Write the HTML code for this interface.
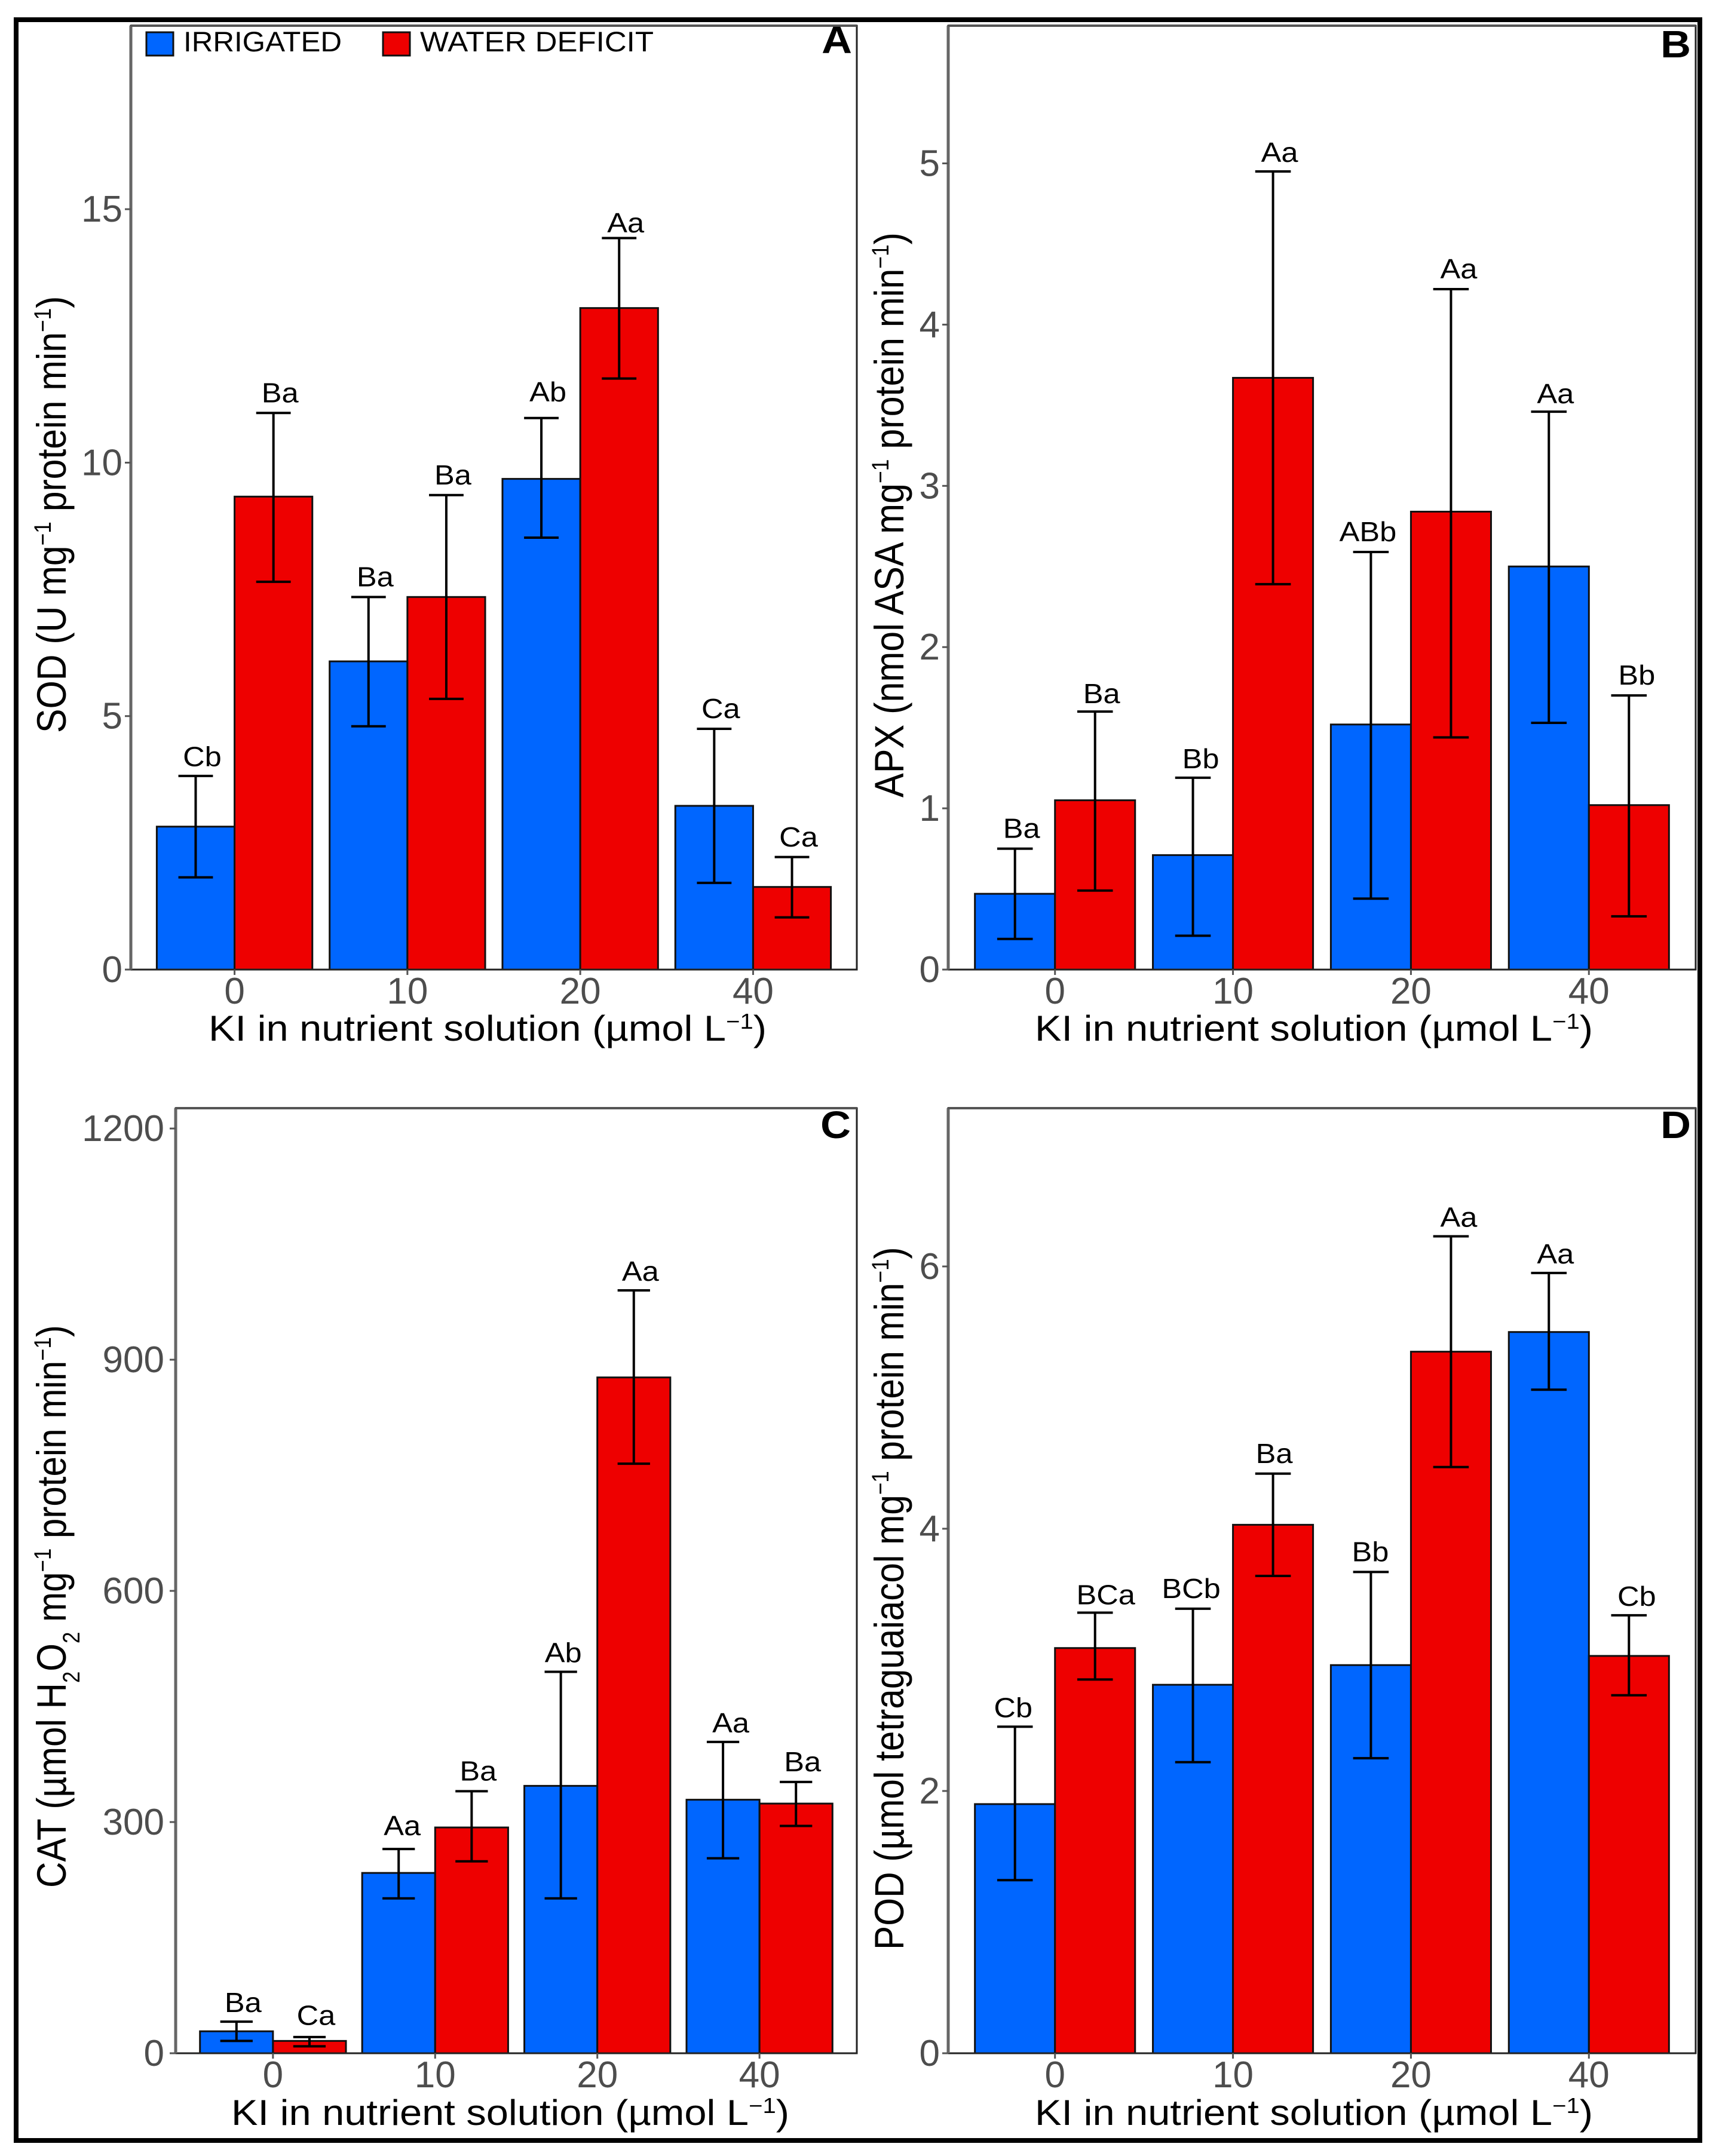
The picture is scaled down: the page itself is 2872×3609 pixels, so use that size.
<!DOCTYPE html>
<html lang="en">
<head>
<meta charset="utf-8">
<title>Antioxidant enzyme activity by KI level and irrigation</title>
<style>
html,body{margin:0;padding:0;background:#fff;}
svg{display:block;font-family:"Liberation Sans",Arial,sans-serif;}
</style>
</head>
<body>
<svg id="figure" xmlns="http://www.w3.org/2000/svg" width="2872" height="3609" viewBox="0 0 2872 3609">
  <rect x="0" y="0" width="2872" height="3609" fill="#ffffff"/>
  <rect x="27" y="33" width="2818" height="3550" fill="none" stroke="#000" stroke-width="8"/>
  <g id="panels"></g>

  <g>
    <rect x="245" y="54" width="45" height="39" fill="#0066ff" stroke="#111" stroke-width="3"/>
    <text x="307" y="86" font-size="47" fill="#000" textLength="265" lengthAdjust="spacingAndGlyphs">IRRIGATED</text>
    <rect x="641" y="54" width="45" height="39" fill="#ee0000" stroke="#111" stroke-width="3"/>
    <text x="703" y="86" font-size="47" fill="#000" textLength="391" lengthAdjust="spacingAndGlyphs">WATER DEFICIT</text>
  </g>

  <g font-size="69" fill="#000">
    <text transform="translate(110 1227) rotate(-90) scale(0.88 1)">SOD (U mg<tspan font-size="40" dy="-25">−1</tspan><tspan dy="25"> protein min</tspan><tspan font-size="40" dy="-25">−1</tspan><tspan dy="25">)</tspan></text>
    <text transform="translate(1512 1335) rotate(-90) scale(0.885 1)">APX (nmol ASA mg<tspan font-size="40" dy="-25">−1</tspan><tspan dy="25"> protein min</tspan><tspan font-size="40" dy="-25">−1</tspan><tspan dy="25">)</tspan></text>
    <text transform="translate(110 3160) rotate(-90) scale(0.871 1)">CAT (µmol H<tspan font-size="40" dy="23">2</tspan><tspan dy="-23">O</tspan><tspan font-size="40" dy="23">2</tspan><tspan dy="-23"> mg</tspan><tspan font-size="40" dy="-25">−1</tspan><tspan dy="25"> protein min</tspan><tspan font-size="40" dy="-25">−1</tspan><tspan dy="25">)</tspan></text>
    <text transform="translate(1512 3264) rotate(-90) scale(0.874 1)">POD (µmol tetraguaiacol mg<tspan font-size="40" dy="-25">−1</tspan><tspan dy="25"> protein min</tspan><tspan font-size="40" dy="-25">−1</tspan><tspan dy="25">)</tspan></text>
  </g>

  <g font-size="60" fill="#000">
    <text transform="translate(349 1742) scale(1.113 1)">KI in nutrient solution (µmol L<tspan font-size="36" dy="-20">−1</tspan><tspan dy="20">)</tspan></text>
    <text transform="translate(1732 1742) scale(1.113 1)">KI in nutrient solution (µmol L<tspan font-size="36" dy="-20">−1</tspan><tspan dy="20">)</tspan></text>
    <text transform="translate(387 3557) scale(1.113 1)">KI in nutrient solution (µmol L<tspan font-size="36" dy="-20">−1</tspan><tspan dy="20">)</tspan></text>
    <text transform="translate(1732 3557) scale(1.113 1)">KI in nutrient solution (µmol L<tspan font-size="36" dy="-20">−1</tspan><tspan dy="20">)</tspan></text>
  </g>

  <g font-size="64" font-weight="700" fill="#000" text-anchor="end">
    <text transform="translate(1426 89) scale(1.1 1)">A</text>
    <text transform="translate(2830 96) scale(1.1 1)">B</text>
    <text transform="translate(1424 1905) scale(1.1 1)">C</text>
    <text transform="translate(2830 1905) scale(1.1 1)">D</text>
  </g>
</svg>

<script>
// Shared category axis
const categories = ['0', '10', '20', '40'];

// Panel A: SOD
const sodTicks = [0, 5, 10, 15];
const sodIrrigated = [2.82, 6.08, 9.68, 3.23];
const sodIrrigatedHigh = [3.82, 7.35, 10.88, 4.75];
const sodIrrigatedLow = [1.82, 4.80, 8.52, 1.71];
const sodIrrigatedLabels = ['Cb', 'Ba', 'Ab', 'Ca'];
const sodIrrigatedLabelGap = [0.19, 0.21, 0.33, 0.21];
const sodDeficit = [9.33, 7.35, 13.05, 1.63];
const sodDeficitHigh = [10.98, 9.36, 14.43, 2.22];
const sodDeficitLow = [7.65, 5.34, 11.66, 1.03];
const sodDeficitLabels = ['Ba', 'Ba', 'Aa', 'Ca'];
const sodDeficitLabelGap = [0.21, 0.21, 0.11, 0.21];

// Panel B: APX
const apxTicks = [0, 1, 2, 3, 4, 5];
const apxIrrigated = [0.47, 0.71, 1.52, 2.50];
const apxIrrigatedHigh = [0.75, 1.19, 2.59, 3.46];
const apxIrrigatedLow = [0.19, 0.21, 0.44, 1.53];
const apxIrrigatedLabels = ['Ba', 'Bb', 'ABb', 'Aa'];
const apxIrrigatedLabelGap = [0.067, 0.059, 0.067, 0.052];
const apxDeficit = [1.05, 3.67, 2.84, 1.02];
const apxDeficitHigh = [1.60, 4.95, 4.22, 1.70];
const apxDeficitLow = [0.49, 2.39, 1.44, 0.33];
const apxDeficitLabels = ['Ba', 'Aa', 'Aa', 'Bb'];
const apxDeficitLabelGap = [0.052, 0.059, 0.067, 0.067];

// Panel C: CAT
const catTicks = [0, 300, 600, 900, 1200];
const catIrrigated = [28.5, 234, 347, 329];
const catIrrigatedHigh = [41, 265, 495, 404];
const catIrrigatedLow = [16, 201, 201, 253];
const catIrrigatedLabels = ['Ba', 'Aa', 'Ab', 'Aa'];
const catIrrigatedLabelGap = [12.4, 18, 12.4, 12.4];
const catDeficit = [16, 293, 877, 324];
const catDeficitHigh = [21, 340, 990, 352];
const catDeficitLow = [9, 249, 765, 295];
const catDeficitLabels = ['Ca', 'Ba', 'Aa', 'Ba'];
const catDeficitLabelGap = [16, 14, 12.4, 14];

// Panel D: POD
const podTicks = [0, 2, 4, 6];
const podIrrigated = [1.90, 2.81, 2.96, 5.50];
const podIrrigatedHigh = [2.49, 3.39, 3.67, 5.95];
const podIrrigatedLow = [1.32, 2.22, 2.25, 5.06];
const podIrrigatedLabels = ['Cb', 'BCb', 'Bb', 'Aa'];
const podIrrigatedLabelGap = [0.073, 0.082, 0.082, 0.073];
const podDeficit = [3.09, 4.03, 5.35, 3.03];
const podDeficitHigh = [3.36, 4.42, 6.23, 3.34];
const podDeficitLow = [2.85, 3.64, 4.47, 2.73];
const podDeficitLabels = ['BCa', 'Ba', 'Aa', 'Cb'];
const podDeficitLabelGap = [0.064, 0.082, 0.073, 0.073];

const SVG_NS = 'http://www.w3.org/2000/svg';

function make(tag, attrs, parent, text) {
  const node = document.createElementNS(SVG_NS, tag);
  for (const key in attrs) node.setAttribute(key, attrs[key]);
  if (text !== undefined) node.textContent = text;
  parent.appendChild(node);
  return node;
}

function drawSeries(root, panel, series, xOf, yOf, step) {
  const barWidth = 0.45 * step;
  const capHalf = 0.1 * step;
  categories.forEach(function (cat, i) {
    const x0 = series.side < 0 ? xOf(i) - barWidth : xOf(i);
    const bar = make('rect', {
      x: x0, y: yOf(series.values[i]), width: barWidth,
      height: yOf(0) - yOf(series.values[i]),
      fill: series.color, stroke: '#111', 'stroke-width': 3
    }, root.bars);
    
    

    const cx = x0 + barWidth / 2;
    const whisker = make('g', { stroke: '#000', 'stroke-width': 4, fill: 'none' }, root.errors);
    
    
    make('line', { x1: cx, x2: cx, y1: yOf(series.high[i]), y2: yOf(series.low[i]) }, whisker);
    make('line', { x1: cx - capHalf, x2: cx + capHalf, y1: yOf(series.high[i]), y2: yOf(series.high[i]) }, whisker);
    make('line', { x1: cx - capHalf, x2: cx + capHalf, y1: yOf(series.low[i]), y2: yOf(series.low[i]) }, whisker);

    const labelX = cx + 11 + (series.nudge ? series.nudge[i] : 0);
    const labelY = yOf(series.high[i] + series.gap[i]);
    const label = make('text', {
      transform: 'translate(' + labelX + ' ' + labelY + ') scale(1.1 1)',
      'text-anchor': 'middle', 'font-size': 46, fill: '#000'
    }, root.labels, series.labels[i]);
    
    
  });
}

function drawPanel(panel) {
  const host = document.getElementById('panels');
  const g = make('g', {}, host);
  
  

  const step = (panel.right - panel.left) / 4.2;
  const xOf = function (i) { return panel.left + (i + 0.6) * step; };
  const yOf = function (v) { return panel.bottom - (v / panel.yMax) * (panel.bottom - panel.top); };

  const root = {
    bars: make('g', {}, g),
    errors: make('g', {}, g),
    labels: make('g', {}, g)
  };
  drawSeries(root, panel, panel.irrigated, xOf, yOf, step);
  drawSeries(root, panel, panel.deficit, xOf, yOf, step);

  const border = make('rect', {
    x: panel.left, y: panel.top, width: panel.right - panel.left,
    height: panel.bottom - panel.top, fill: 'none', stroke: '#222', 'stroke-width': 3
  }, g);
  
  

  const yAxis = make('line', {
    x1: panel.left, x2: panel.left, y1: panel.top, y2: panel.bottom,
    stroke: '#666', 'stroke-width': 5
  }, g);
  
  

  const topLine = make('line', {
    x1: panel.left, x2: panel.right, y1: panel.top, y2: panel.top,
    stroke: '#555', 'stroke-width': 4
  }, g);
  
  

  panel.ticks.forEach(function (t) {
    const tick = make('line', {
      x1: panel.left - 10, x2: panel.left, y1: yOf(t), y2: yOf(t),
      stroke: '#555', 'stroke-width': 3
    }, g);
    
    
    const label = make('text', {
      x: panel.left - panel.tickPad, y: yOf(t) + 21, 'text-anchor': 'end',
      'font-size': 62, fill: '#4d4d4d'
    }, g, String(t));
    
    
  });

  categories.forEach(function (cat, i) {
    const tick = make('line', {
      x1: xOf(i), x2: xOf(i), y1: panel.bottom, y2: panel.bottom + 9,
      stroke: '#555', 'stroke-width': 3
    }, g);
    
    
    const label = make('text', {
      x: xOf(i), y: panel.bottom + 57, 'text-anchor': 'middle',
      'font-size': 62, fill: '#4d4d4d'
    }, g, cat);
    
    
  });
}

const BLUE = '#0066ff';
const RED = '#ee0000';

drawPanel({
  id: 'a', left: 219, right: 1434, top: 43, bottom: 1623, yMax: 18.62, tickPad: 14, ticks: sodTicks,
  irrigated: { key: 'irrigated', side: -1, color: BLUE, values: sodIrrigated, high: sodIrrigatedHigh, low: sodIrrigatedLow, labels: sodIrrigatedLabels, gap: sodIrrigatedLabelGap },
  deficit: { key: 'water-deficit', side: 1, color: RED, values: sodDeficit, high: sodDeficitHigh, low: sodDeficitLow, labels: sodDeficitLabels, gap: sodDeficitLabelGap }
});
drawPanel({
  id: 'b', left: 1587, right: 2838, top: 43, bottom: 1623, yMax: 5.854, tickPad: 14, ticks: apxTicks,
  irrigated: { key: 'irrigated', side: -1, color: BLUE, values: apxIrrigated, high: apxIrrigatedHigh, low: apxIrrigatedLow, labels: apxIrrigatedLabels, gap: apxIrrigatedLabelGap, nudge: [0, 2, -16, 0] },
  deficit: { key: 'water-deficit', side: 1, color: RED, values: apxDeficit, high: apxDeficitHigh, low: apxDeficitLow, labels: apxDeficitLabels, gap: apxDeficitLabelGap, nudge: [0, 0, 2, 2] }
});
drawPanel({
  id: 'c', left: 294, right: 1434, top: 1855, bottom: 3437, yMax: 1226.4, tickPad: 19, ticks: catTicks,
  irrigated: { key: 'irrigated', side: -1, color: BLUE, values: catIrrigated, high: catIrrigatedHigh, low: catIrrigatedLow, labels: catIrrigatedLabels, gap: catIrrigatedLabelGap, nudge: [0, -5, -7, 2] },
  deficit: { key: 'water-deficit', side: 1, color: RED, values: catDeficit, high: catDeficitHigh, low: catDeficitLow, labels: catDeficitLabels, gap: catDeficitLabelGap }
});
drawPanel({
  id: 'd', left: 1587, right: 2838, top: 1855, bottom: 3437, yMax: 7.207, tickPad: 14, ticks: podTicks,
  irrigated: { key: 'irrigated', side: -1, color: BLUE, values: podIrrigated, high: podIrrigatedHigh, low: podIrrigatedLow, labels: podIrrigatedLabels, gap: podIrrigatedLabelGap, nudge: [-14, -14, -12, 0] },
  deficit: { key: 'water-deficit', side: 1, color: RED, values: podDeficit, high: podDeficitHigh, low: podDeficitLow, labels: podDeficitLabels, gap: podDeficitLabelGap, nudge: [7, -9, 2, 2] }
});
</script>
</body>
</html>
